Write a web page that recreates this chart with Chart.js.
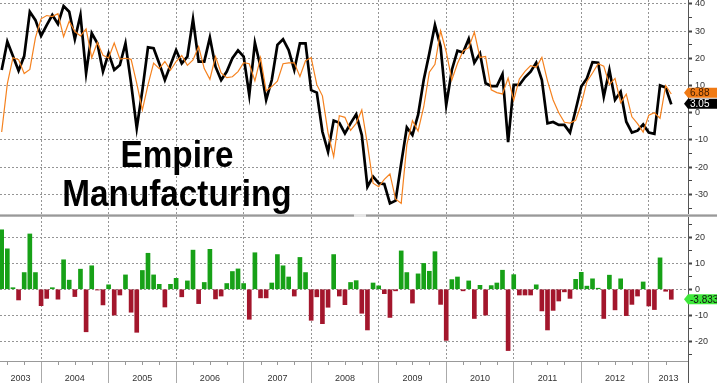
<!DOCTYPE html>
<html><head><meta charset="utf-8">
<script src="https://cdn.jsdelivr.net/npm/chart.js@4.4.1/dist/chart.umd.min.js"></script>
<style>
body{margin:0;background:#fff;}
#wrap{position:relative;width:717px;height:383px;overflow:hidden;background:#fff;}
canvas{position:absolute;left:0;}
#sep{position:absolute;left:0;top:214px;width:717px;height:3px;background:linear-gradient(#d4d4d4,#999 50%,#c4c4c4);}
#grip{position:absolute;left:354px;top:214px;width:12px;height:3px;background:#e6e6e6;}
#title{position:absolute;left:0;top:134.6px;width:354px;text-align:center;font:bold 37px "Liberation Sans",Arial,sans-serif;line-height:39px;color:#000;transform:scaleX(0.9);transform-origin:177px 0;white-space:nowrap;}
</style></head><body>
<div id="wrap">
<canvas id="top" width="717" height="214" style="top:0"></canvas>
<canvas id="bot" width="717" height="166" style="top:217px"></canvas>
<div id="sep"></div><div id="grip"></div>
<div id="title">Empire<br>Manufacturing</div>
</div>
<script>
// ---- data (monthly, May 2003 .. Apr 2013) ----
const startYear = 2003, startMonth = 5, monthCount = 120;
const months = [];
for (let i = 0; i < monthCount; i++) {
  const m = startMonth - 1 + i;
  months.push((startYear + Math.floor(m / 12)) + '-' + String(m % 12 + 1).padStart(2, '0'));
}
const empireActual = [
  15.7,26.1,20.8,15.4,20.8,37.1,34.0,28.2,32.2,35.9,
  32.6,39.2,37.1,27.0,35.9,14.5,29.2,25.5,15.1,21.8,
  15.7,17.5,25.5,10.8,-5.7,8.2,24.0,23.7,18.1,12.0,
  17.5,23.0,18.1,20.6,34.4,18.8,18.8,27.6,16.9,12.0,
  15.1,20.0,22.9,20.6,6.5,25.7,16.9,4.7,12.0,24.9,
  27.0,23.0,15.7,25.5,25.5,8.3,7.4,-7.0,-14.3,-2.9,
  -3.7,-7.6,-3.9,-0.6,-8.2,-27.2,-23.5,-25.9,-26.2,-33.3,
  -32.3,-18.6,-5.4,-8.2,-0.8,12.0,21.8,32.2,24.3,2.8,
  15.7,22.8,22.1,27.1,18.4,21.8,10.8,9.8,9.8,14.2,
  -10.8,10.2,10.2,13.0,15.1,18.4,12.0,-3.9,-3.4,-4.5,
  -4.5,-7.3,1.0,9.6,12.6,18.6,18.4,5.9,15.7,4.7,
  7.7,-3.3,-7.3,-6.6,-4.3,-7.3,-7.78,10.04,9.24,3.05
];
const consensus = [
  -7.1,10.6,20.2,19.5,14.4,15.9,27.6,34.5,35.7,35.3,
  36.4,27.9,33.6,29.8,28.2,30.8,20.2,25.8,21.1,20.1,
  25.6,19.7,20.0,19.6,10.8,1.0,10.2,18.2,16.2,18.8,
  15.6,18.8,21.0,17.4,19.4,24.3,16.2,12.3,20.6,14.6,
  12.9,13.2,15.1,18.4,18.0,11.7,20.2,8.0,9.6,11.6,
  18.0,18.3,18.3,13.3,19.1,20.2,10.3,6.2,-7.4,-16.2,
  -1.1,-1.7,-6.5,-3.9,1.0,-11.6,-25.9,-27.2,-24.5,-22.5,
  -31.7,-33.3,-11.8,-2.9,-6.7,2.1,14.9,17.8,30.1,22.4,
  12.0,18.1,22.7,23.9,29.6,20.3,20.7,8.4,7.4,6.9,
  12.7,4.6,12.4,15.2,17.3,16.7,20.3,11.7,4.7,0.0,
  -3.5,-3.8,-2.8,3.1,11.4,14.6,18.0,17.1,10.3,12.6,
  3.7,6.8,-1.5,-4.0,-7.1,-0.9,0.0,-2.0,10.0,6.883
];
const surprise = [
  22.8,15.5,0.6,-4.1,6.4,21.2,6.4,-6.3,-3.5,0.6,
  -3.8,11.3,3.5,-2.8,7.7,-16.3,9.0,-0.3,-6.0,1.7,
  -9.9,-2.2,5.5,-8.8,-16.5,7.2,13.8,5.5,1.9,-6.8,
  1.9,4.2,-2.9,3.2,15.0,-5.5,2.6,15.3,-3.7,-2.6,
  2.2,6.8,7.8,2.2,-11.5,14.0,-3.3,-3.3,2.4,13.3,
  9.0,4.7,-2.6,12.2,6.4,-11.9,-2.9,-13.2,-6.9,13.3,
  -2.6,-5.9,2.6,3.3,-9.2,-15.6,2.4,1.3,-1.7,-10.8,
  -0.6,14.7,6.4,-5.3,5.9,9.9,6.9,14.4,-5.8,-19.6,
  3.7,4.7,-0.6,3.2,-11.2,1.5,-9.9,1.4,2.4,7.3,
  -23.5,5.6,-2.2,-2.2,-2.2,1.7,-8.3,-15.6,-8.1,-4.5,
  -1.0,-3.5,3.8,6.5,1.2,4.0,0.4,-11.2,5.4,-7.9,
  4.0,-10.1,-5.8,-2.6,2.8,-6.4,-7.78,12.04,-0.76,-3.833
];
const yearLabels = ['2003','2004','2005','2006','2007','2008','2009','2010','2011','2012','2013'];
const topTicks = [40,35,30,25,20,15,10,5,0,-5,-10,-15,-20,-25,-30,-35];
const bottomTicks = [25,20,15,10,5,0,-5,-10,-15,-20,-25];

// ---- layout helpers ----
const X_MIN = -0.3, X_MAX = 121.97;
const FONT = '"Liberation Sans", Arial, sans-serif';
const GRID = '#959595';
const DASH = [2, 2];
const yearEnds = months.map((m, i) => m.endsWith('-12') ? i : null).filter(v => v !== null);
const yearLabelPos = yearLabels.map((y, k) => {
  const a = k === 0 ? X_MIN : yearEnds[k - 1];
  const b = k < yearEnds.length ? yearEnds[k] : X_MAX;
  return (a + b) / 2;
});
const quarterTicks = months.map((m, i) => /-(03|06|09)$/.test(m) ? i : null).filter(v => v !== null);
const isEnd = v => yearEnds.includes(v);

function yScale(min, max, ticks) {
  return {
    position: 'right', min, max,
    afterBuildTicks: s => { s.ticks = ticks.map(v => ({ value: v })); },
    afterFit: s => { s.width = 29; s.paddingTop = 0; s.paddingBottom = 0; },
    border: { display: true, color: '#555', width: 1, dash: DASH },
    grid: {
      color: c => (c.tick && c.tick.value % 10 === 0) ? GRID : 'rgba(0,0,0,0)',
      lineWidth: 1, drawTicks: true, tickLength: 4,
      tickColor: '#444',
      tickWidth: c => (c.tick && c.tick.value % 10 === 0) ? 2 : 1
    },
    ticks: {
      padding: 3, color: '#333', font: { size: 9, family: FONT }, autoSkip: false,
      callback: v => v % 10 === 0 ? String(v) : ''
    }
  };
}

const tagPlugin = {
  id: 'tags',
  afterDraw(chart, args, opts) {
    const ctx = chart.ctx, r = chart.chartArea.right, y = chart.scales.y;
    let items = opts.items.map(t => ({ ...t, cy: y.getPixelForValue(t.value) }));
    if (items.length === 2 && Math.abs(items[0].cy - items[1].cy) < 11) {
      const mid = (items[0].cy + items[1].cy) / 2 - 1;
      const up = items[0].cy <= items[1].cy ? 0 : 1;
      items[up].cy = mid - 5.5; items[1 - up].cy = mid + 5.5;
    }
    items.forEach(t => {
      const cy = t.cy;
      ctx.save();
      ctx.beginPath();
      ctx.moveTo(r - 4, cy); ctx.lineTo(r, cy - 5); ctx.lineTo(717, cy - 5);
      ctx.lineTo(717, cy + 5); ctx.lineTo(r, cy + 5); ctx.closePath();
      ctx.fillStyle = t.fill; ctx.fill();
      ctx.fillStyle = t.text; ctx.font = '10px ' + FONT;
      ctx.textBaseline = 'middle'; ctx.textAlign = 'left';
      ctx.fillText(t.value.toFixed(t.dec), r + 2, cy + 0.5);
      ctx.restore();
    });
  }
};

const last = monthCount - 1;
new Chart(document.getElementById('top'), {
  type: 'line',
  data: {
    datasets: [
      { label: 'Consensus', data: consensus.map((v, i) => ({ x: i, y: v })),
        borderColor: '#f5821f', borderWidth: 1.2, pointRadius: 0, tension: 0 },
      { label: 'Empire Manufacturing', data: empireActual.map((v, i) => ({ x: i, y: v })),
        borderColor: '#000', borderWidth: 2.7, pointRadius: 0, tension: 0 }
    ]
  },
  options: {
    responsive: false, animation: false, devicePixelRatio: 1,
    layout: { padding: 0 },
    plugins: {
      legend: { display: false }, tooltip: { enabled: false },
      tags: { items: [
        { value: consensus[last], fill: '#f07a14', text: '#3a1a00', dec: 2 },
        { value: empireActual[last], fill: '#000', text: '#fff', dec: 2 }
      ] }
    },
    scales: {
      x: {
        type: 'linear', min: X_MIN, max: X_MAX,
        afterBuildTicks: s => { s.ticks = yearEnds.map(v => ({ value: v })); },
        afterFit: s => { s.height = 0; s.paddingLeft = 0; s.paddingRight = 0; },
        ticks: { display: false },
        grid: { color: GRID, lineWidth: 1, drawTicks: false, offset: false },
        border: { display: false, dash: DASH }
      },
      y: yScale(-37.2, 41.4, topTicks)
    }
  },
  plugins: [tagPlugin]
});

const axisExtras = {
  id: 'axisExtras',
  afterDraw(chart) {
    const ctx = chart.ctx, x = chart.scales.x, a = chart.chartArea;
    ctx.save();
    ctx.strokeStyle = '#999'; ctx.lineWidth = 1;
    quarterTicks.forEach(i => {
      const px = Math.round(x.getPixelForValue(i)) + 0.5;
      ctx.beginPath(); ctx.moveTo(px, a.bottom); ctx.lineTo(px, a.bottom + 4); ctx.stroke();
    });
    ctx.strokeStyle = '#555';
    ctx.beginPath(); ctx.moveTo(a.right + 0.5, a.bottom); ctx.lineTo(a.right + 0.5, chart.height); ctx.stroke();
    ctx.restore();
  }
};

new Chart(document.getElementById('bot'), {
  type: 'bar',
  data: {
    datasets: [{
      label: 'Surprise', data: surprise.map((v, i) => ({ x: i, y: v })),
      backgroundColor: c => (c.raw && c.raw.y >= 0) ? '#17a117' : '#a3162c',
      barThickness: 4, borderWidth: 0
    }]
  },
  options: {
    responsive: false, animation: false, devicePixelRatio: 1,
    layout: { padding: 0 },
    plugins: {
      legend: { display: false }, tooltip: { enabled: false },
      tags: { items: [ { value: surprise[last], fill: '#3ee83a', text: '#111', dec: 3 } ] }
    },
    scales: {
      x: {
        type: 'linear', min: X_MIN, max: X_MAX, offset: false,
        afterBuildTicks: s => {
          s.ticks = yearEnds.concat(yearLabelPos).sort((a, b) => a - b).map(v => ({ value: v }));
        },
        afterFit: s => { s.height = 22; s.paddingLeft = 0; s.paddingRight = 0; },
        border: { display: true, color: '#999', width: 1, dash: DASH },
        grid: {
          offset: false, lineWidth: 1,
          color: c => (c.tick && isEnd(c.tick.value)) ? GRID : 'rgba(0,0,0,0)',
          tickColor: c => (c.tick && isEnd(c.tick.value)) ? '#aaa' : 'rgba(0,0,0,0)',
          tickLength: 22, drawTicks: true
        },
        ticks: {
          autoSkip: false, maxRotation: 0, padding: -10, color: '#333',
          font: { size: 9, family: FONT },
          callback: v => { const k = yearLabelPos.indexOf(v); return k >= 0 ? yearLabels[k] : ''; }
        }
      },
      y: yScale(-27.5, 27.7, bottomTicks)
    }
  },
  plugins: [tagPlugin, axisExtras]
});
</script>
</body></html>
